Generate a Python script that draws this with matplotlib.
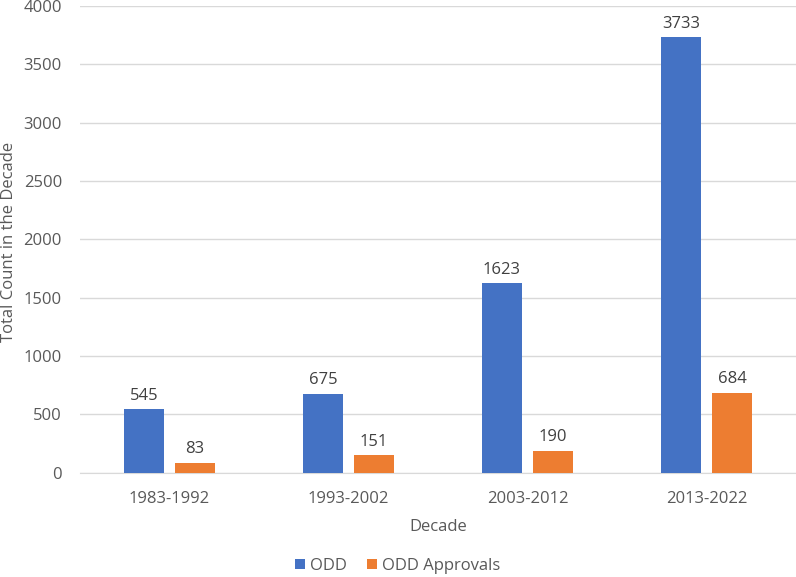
import numpy as np
import matplotlib
matplotlib.use("Agg")
import matplotlib.pyplot as plt

decades = ["1983-1992", "1993-2002", "2003-2012", "2013-2022"]
odd = [545, 675, 1623, 3733]
approvals = [83, 151, 190, 684]
yticks = [0, 500, 1000, 1500, 2000, 2500, 3000, 3500, 4000]

plt.rcParams['font.family'] = ['Open Sans', 'DejaVu Sans']
txt = '#595959'
fs = 12

fig = plt.figure(figsize=(7.96, 5.77), dpi=100)
ax = fig.add_axes([80/796, 1 - 472.7/577, 716/796, 466.7/577])

x = np.arange(len(decades))
w = 0.223
off = 0.1425
b1 = ax.bar(x - off, odd, w, color='#4472C4', label='ODD', zorder=3)
b2 = ax.bar(x + off, approvals, w, color='#ED7D31', label='ODD Approvals', zorder=3)

for bars, vals in ((b1, odd), (b2, approvals)):
    for r, v in zip(bars, vals):
        ax.annotate(str(v), (r.get_x() + r.get_width() / 2, v),
                    xytext=(0, 4), textcoords='offset points',
                    ha='center', va='bottom', fontsize=fs, color='#404040')

ax.set_xlim(-0.5, 3.5)
ax.set_ylim(0, 4000)
ax.set_yticks(yticks)
ax.set_xticks(x)
ax.set_xticklabels(decades)
ax.tick_params(length=0, labelsize=fs, labelcolor=txt)
ax.tick_params(axis='x', pad=13)
ax.tick_params(axis='y', pad=13)
ax.grid(axis='y', color='#d9d9d9', linewidth=1, zorder=0)
for s in ['top', 'right', 'left']:
    ax.spines[s].set_visible(False)
ax.spines['bottom'].set_color('#d9d9d9')

ax.set_xlabel('Decade', fontsize=fs, color=txt, labelpad=9)
# y label placed by hand, the default spot runs off the left edge
fig.text(9/796, 1 - 242/577, 'Total Count in the Decade', rotation=90,
         ha='center', va='center', fontsize=fs, color=txt)

fig.legend(handles=[b1, b2], loc='center', bbox_to_anchor=(0.5, 1 - 566/577),
           ncol=2, frameon=False, fontsize=fs, labelcolor=txt,
           handlelength=0.6, handleheight=0.6, handletextpad=0.3, columnspacing=1.2)

fig.savefig('out.png', dpi=100)
